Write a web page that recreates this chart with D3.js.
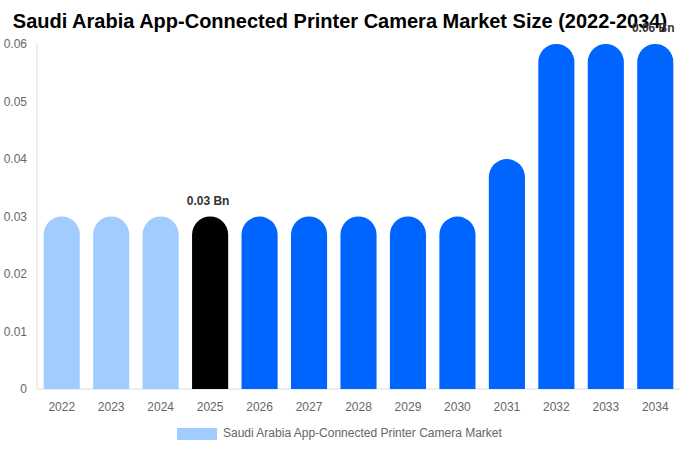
<!DOCTYPE html>
<html><head><meta charset="utf-8">
<script src="https://cdn.jsdelivr.net/npm/d3@7/dist/d3.min.js"></script>
<style>body{margin:0;background:#fff}svg{display:block;font-family:"Liberation Sans",Arial,sans-serif}</style>
</head><body><svg id="c" width="680" height="450"></svg>
<script>
const years = ["2022","2023","2024","2025","2026","2027","2028","2029","2030","2031","2032","2033","2034"];
const values = [0.03,0.03,0.03,0.03,0.03,0.03,0.03,0.03,0.03,0.04,0.06,0.06,0.06];
const kinds = ["hist","hist","hist","base","fc","fc","fc","fc","fc","fc","fc","fc","fc"];
const yTicks = [0,0.01,0.02,0.03,0.04,0.05,0.06];
const labelled = {"2025":"0.03 Bn","2034":"0.06 Bn"};
const colors = {hist:"#a0cdfe", base:"#000000", fc:"#0064ff"};

const svg = d3.select("#c");
const m = {l:37, r:680, t:44, b:389};
const x = d3.scaleBand().domain(years).range([m.l, m.r]).paddingInner(0.27).paddingOuter(0.135);
const y = d3.scaleLinear().domain([0,0.06]).range([m.b, m.t]);

svg.append("text").attr("x",340).attr("y",28).attr("text-anchor","middle")
  .attr("font-size",20).attr("font-weight","bold").attr("fill","#000")
  .text("Saudi Arabia App-Connected Printer Camera Market Size (2022-2034)");

svg.append("line").attr("x1",m.l).attr("x2",m.l).attr("y1",m.t).attr("y2",m.b).attr("stroke","#ddd");
svg.append("line").attr("x1",m.l).attr("x2",m.r).attr("y1",m.b).attr("y2",m.b).attr("stroke","#ddd");

svg.selectAll(".yt").data(yTicks).join("text").attr("x",27).attr("y",d=>y(d)+4)
  .attr("text-anchor","end").attr("font-size",12).attr("fill","#666").text(d=>d===0?"0":d.toFixed(2));

svg.selectAll(".xt").data(years).join("text").attr("x",d=>x(d)+x.bandwidth()/2).attr("y",411)
  .attr("text-anchor","middle").attr("font-size",12).attr("fill","#666").text(d=>d);

const bw = x.bandwidth(), r = bw/2;
svg.selectAll(".bar").data(years).join("path")
  .attr("fill",(d,i)=>colors[kinds[i]])
  .attr("d",(d,i)=>{
    const x0 = x(d), top = y(values[i]), bot = y(0);
    return `M${x0},${bot}V${top+r}A${r},${r} 0 0 1 ${x0+bw},${top+r}V${bot}Z`;
  });

svg.selectAll(".lbl").data(years.filter(d=>labelled[d])).join("text")
  .attr("x",d=>x(d)+bw/2 - 2).attr("y",d=>y(values[years.indexOf(d)])-12)
  .attr("text-anchor","middle").attr("font-size",12).attr("font-weight","bold").attr("fill","#333")
  .text(d=>labelled[d]);

svg.append("rect").attr("x",177).attr("y",428).attr("width",40).attr("height",12).attr("fill",colors.hist);
svg.append("text").attr("x",223).attr("y",437).attr("font-size",12).attr("fill","#666")
  .text("Saudi Arabia App-Connected Printer Camera Market");
</script></body></html>
